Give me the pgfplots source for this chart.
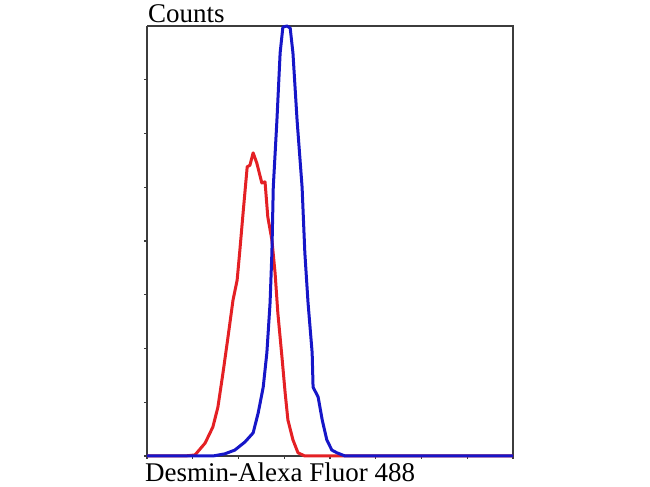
\documentclass[border=0pt]{standalone}
\usepackage{pgfplots}
\pgfplotsset{compat=1.18}
\usepackage{fontspec}
\setmainfont{Liberation Serif}
\definecolor{myred}{RGB}{228,32,36}
\definecolor{myblue}{RGB}{22,22,200}
\definecolor{axgray}{RGB}{60,60,60}
\begin{document}
\begin{tikzpicture}[x=1pt,y=1pt]
\begin{axis}[
  scale only axis,
  width=366pt, height=430pt,
  xmin=0, xmax=8, ymin=0, ymax=8,
  xtick={0,1,...,8}, ytick={0,1,...,7},
  xticklabels={}, yticklabels={},
  tick align=outside,
  major tick length=3pt,
  tick style={axgray, line width=1.2pt},
  axis line style={axgray, line width=1.3pt},
  axis x line*=bottom, axis y line*=left,
  clip=false,
]
\draw[axgray, line width=1.3pt] (rel axis cs:0,1) -- (rel axis cs:1,1) -- (rel axis cs:1,0);
\addplot[myred, line width=3pt, line join=round] coordinates {
(0,0) (0.83,0) (1.05,0.02) (1.27,0.24) (1.44,0.54) (1.55,0.91) (1.66,1.54)
(1.77,2.21) (1.88,2.90) (1.97,3.27) (2.03,3.83) (2.10,4.52) (2.19,5.38)
(2.25,5.41) (2.32,5.64) (2.40,5.45) (2.51,5.08) (2.58,5.10) (2.64,4.45)
(2.73,4.02) (2.80,3.40) (2.86,2.66) (2.95,1.84) (3.02,1.17) (3.08,0.67)
(3.19,0.30) (3.30,0.06) (3.45,0) (8,0)
};
\addplot[myblue, line width=3pt, line join=round] coordinates {
(0,0) (1.44,0) (1.70,0.04) (1.92,0.11) (2.14,0.26) (2.32,0.43) (2.43,0.80)
(2.54,1.28) (2.62,1.92) (2.69,2.85) (2.73,3.78) (2.76,5.00) (2.84,6.25)
(2.91,7.50) (2.97,7.98) (3.06,8.0) (3.13,7.96) (3.19,7.50) (3.28,6.25)
(3.39,5.00) (3.45,3.78) (3.52,2.85) (3.61,1.92) (3.63,1.28) (3.74,1.10)
(3.83,0.67) (3.93,0.30) (4.04,0.11) (4.15,0.06) (4.33,0) (8,0)
};
\coordinate (sw) at (rel axis cs:0,0);
\coordinate (ne) at (rel axis cs:1,1);
\end{axis}
\node[anchor=base west, inner sep=0pt, font=\fontsize{27}{30}\selectfont] at ([xshift=1pt,yshift=3pt]sw |- ne) {Counts};
\node[anchor=base west, inner sep=0pt, font=\fontsize{27}{30}\selectfont] at ([xshift=-2pt,yshift=-26pt]sw) {Desmin-Alexa Fluor 488};
\path[use as bounding box] ([xshift=-147pt,yshift=-31pt]sw) rectangle ([xshift=137pt,yshift=26pt]ne);
\end{tikzpicture}
\end{document}
